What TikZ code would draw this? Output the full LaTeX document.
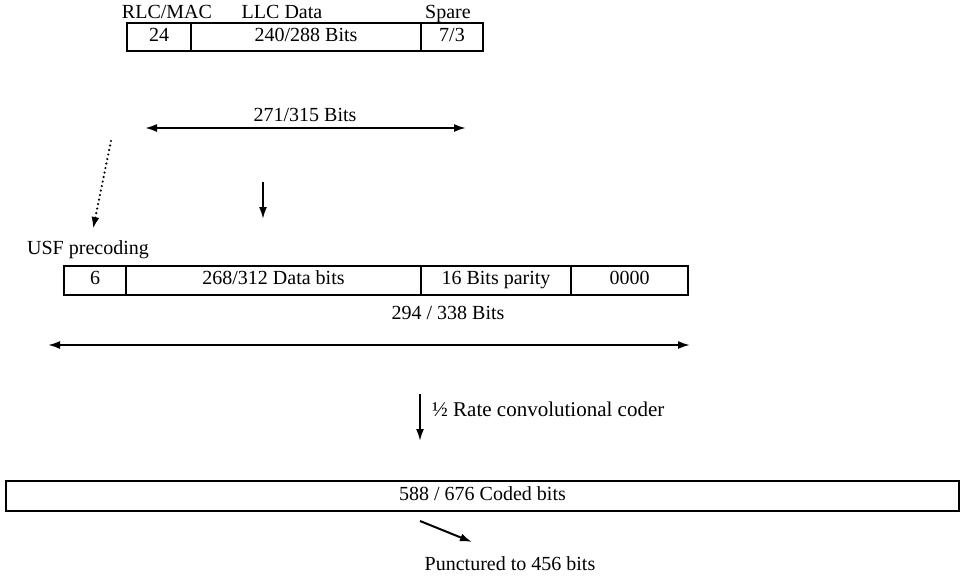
\documentclass[tikz,border=0pt]{standalone}
\usepackage{fontspec}
\setmainfont{Liberation Serif}
\usetikzlibrary{arrows.meta}
\begin{document}
\begin{tikzpicture}[x=1pt,y=-1pt,
  txt/.style={inner sep=0pt, text height=13pt, text depth=4pt, font=\fontsize{20}{22}\selectfont},
  cell/.style={txt, draw, line width=2pt, anchor=west},
  tip/.tip={Latex[length=12pt,width=8pt]},
  arr/.style={line width=2pt, -tip},
  darr/.style={line width=2pt, tip-tip},
  dotarr/.style={line width=2.4pt, line cap=round, dash pattern=on 0pt off 4.6pt, -tip}]
\useasboundingbox (0,0) rectangle (960,584);
% row 1
\node[txt] (lrlc) at (167,14) {RLC/MAC};
\node[txt] (lllc) at (282,14) {LLC Data};
\node[txt] (lspare) at (448,14) {Spare};
\node[cell, minimum width=64pt, minimum height=28pt] (a1) at (126,37) {24};
\node[cell, minimum width=230pt, minimum height=28pt] (a2) at (190,37) {240/288 Bits};
\node[cell, minimum width=62pt, minimum height=28pt] (a3) at (420,37) {7/3};
\node[txt] (l271) at (305,117) {271/315 Bits};
\coordinate (d1l) at (145,128);
\coordinate (d1r) at (466,128);
\draw[darr] (d1l) -- (d1r);
% dotted and down arrows
\coordinate (dots) at (111,141);
\coordinate (dote) at (93,229);
\draw[dotarr] (dots) -- (dote);
\coordinate (ds1) at (263,182);
\coordinate (de1) at (263,219);
\draw[arr] (ds1) -- (de1);
% row 2
\node[txt] (lusf) at (88,250) {USF precoding};
\node[cell, minimum width=62pt, minimum height=29pt] (b1) at (63,280) {6};
\node[cell, minimum width=295pt, minimum height=29pt] (b2) at (125,280) {268/312 Data bits};
\node[cell, minimum width=150pt, minimum height=29pt] (b3) at (420,280) {16 Bits parity};
\node[cell, minimum width=117pt, minimum height=29pt] (b4) at (570,280) {0000};
\node[txt] (l294) at (448,315) {294 / 338 Bits};
\coordinate (d2l) at (48,345);
\coordinate (d2r) at (690,345);
\draw[darr] (d2l) -- (d2r);
% conv coder
\coordinate (ds2) at (420,394);
\coordinate (de2) at (420,441);
\draw[arr] (ds2) -- (de2);
\node[txt, anchor=west, font=\fontsize{21}{23}\selectfont] (lconv) at (432,412) {½ Rate convolutional coder};
% coded box
\node[cell, minimum width=953pt, minimum height=30pt] (c1) at (5,496) {588 / 676 Coded bits};
\coordinate (ps) at (420,521);
\coordinate (pe) at (472,542);
\draw[arr] (ps) -- (pe);
\node[txt] (lpunct) at (510,566) {Punctured to 456 bits};
\end{tikzpicture}
\end{document}
